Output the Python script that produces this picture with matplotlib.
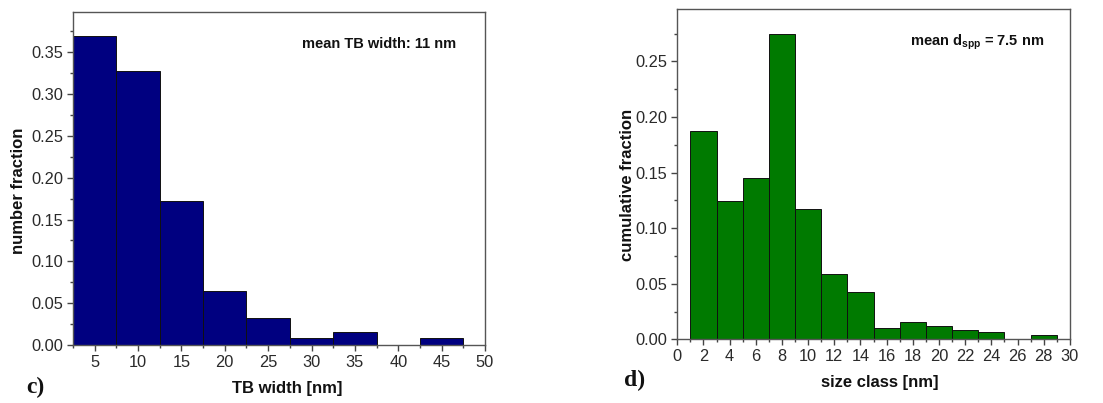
import matplotlib
matplotlib.use("Agg")
import matplotlib.pyplot as plt
from matplotlib.ticker import MultipleLocator, FormatStrFormatter

plt.rcParams['font.family'] = ['Liberation Sans', 'DejaVu Sans']
plt.rcParams['mathtext.fontset'] = 'custom'
plt.rcParams['mathtext.rm'] = 'Liberation Sans:bold'

# Left panel (c): TB width histogram
tb_bin_left = [2.5, 7.5, 12.5, 17.5, 22.5, 27.5, 32.5, 37.5, 42.5]
tb_fraction = [0.370, 0.328, 0.172, 0.065, 0.032, 0.008, 0.016, 0.0, 0.008]
tb_bin_width = 5
tb_xticks = [5, 10, 15, 20, 25, 30, 35, 40, 45, 50]

# Right panel (d): size class histogram
sz_bin_left = [1, 3, 5, 7, 9, 11, 13, 15, 17, 19, 21, 23, 25, 27]
sz_fraction = [0.187, 0.124, 0.145, 0.275, 0.117, 0.0587, 0.043, 0.0102,
               0.0158, 0.0117, 0.0087, 0.0063, 0.0, 0.0036]
sz_bin_width = 2
sz_xticks = list(range(0, 31, 2))

fig = plt.figure(figsize=(11.03, 4.03), dpi=100)

axL = fig.add_axes([0.0662, 0.144, 0.3735, 0.826])
axR = fig.add_axes([0.614, 0.158, 0.356, 0.819])

TICK_FS = 11.8
LABEL_FS = 12

def style(ax):
    for s in ax.spines.values():
        s.set_color('#555555')
        s.set_linewidth(1.0)
    ax.tick_params(direction='out', which='major', length=4, width=1, color='#444444',
                   labelsize=TICK_FS, labelcolor='#2a2a2a', top=False, right=False, pad=3)
    ax.tick_params(direction='out', which='minor', length=2.5, width=1, color='#444444',
                   top=False, right=False)

axL.bar(tb_bin_left, tb_fraction, width=tb_bin_width, align='edge',
        color='#000080', edgecolor='#111111', linewidth=0.7)
axL.set_xlim(2.5, 50)
axL.set_ylim(0, 0.398)
axL.set_xticks(tb_xticks)
axL.xaxis.set_minor_locator(MultipleLocator(2.5))
axL.yaxis.set_major_locator(MultipleLocator(0.05))
axL.yaxis.set_minor_locator(MultipleLocator(0.025))
axL.yaxis.set_major_formatter(FormatStrFormatter('%.2f'))
style(axL)
axL.set_ylabel('number fraction', fontsize=LABEL_FS, fontweight='bold',
               color='#111111', va='center')
axL.yaxis.set_label_coords(-0.133, 0.462)
axL.text(0.93, 0.905, 'mean TB width: 11 nm', transform=axL.transAxes,
         ha='right', va='center', fontsize=10.5, fontweight='bold', color='#111111')
fig.text(287 / 1103, 1 - 388 / 403, 'TB width [nm]', fontsize=LABEL_FS, fontweight='bold',
         ha='center', va='center', color='#111111')

axR.bar(sz_bin_left, sz_fraction, width=sz_bin_width, align='edge',
        color='#007A00', edgecolor='#111111', linewidth=0.7)
axR.set_xlim(0, 30)
axR.set_ylim(0, 0.2968)
axR.set_xticks(sz_xticks)
axR.xaxis.set_minor_locator(MultipleLocator(1))
axR.yaxis.set_major_locator(MultipleLocator(0.05))
axR.yaxis.set_minor_locator(MultipleLocator(0.025))
axR.yaxis.set_major_formatter(FormatStrFormatter('%.2f'))
style(axR)
axR.set_ylabel('cumulative fraction', fontsize=LABEL_FS, fontweight='bold',
               color='#111111', va='center')
axR.yaxis.set_label_coords(-0.127, 0.467)
axR.text(0.935, 0.90, r'mean d$_{\mathrm{spp}}$ = 7.5 nm', transform=axR.transAxes,
         ha='right', va='center', fontsize=10.5, fontweight='bold', color='#111111')
fig.text(880 / 1103, 1 - 383 / 403, 'size class [nm]', fontsize=LABEL_FS, fontweight='bold',
         ha='center', va='center', color='#111111')

fig.text(35 / 1103, 1 - 387 / 403, 'c)', family='Liberation Serif', fontweight='bold',
         fontsize=17, ha='center', va='center', color='#111111')
fig.text(635 / 1103, 1 - 380 / 403, 'd)', family='Liberation Serif', fontweight='bold',
         fontsize=17, ha='center', va='center', color='#111111')

fig.savefig('out.png', dpi=100)
